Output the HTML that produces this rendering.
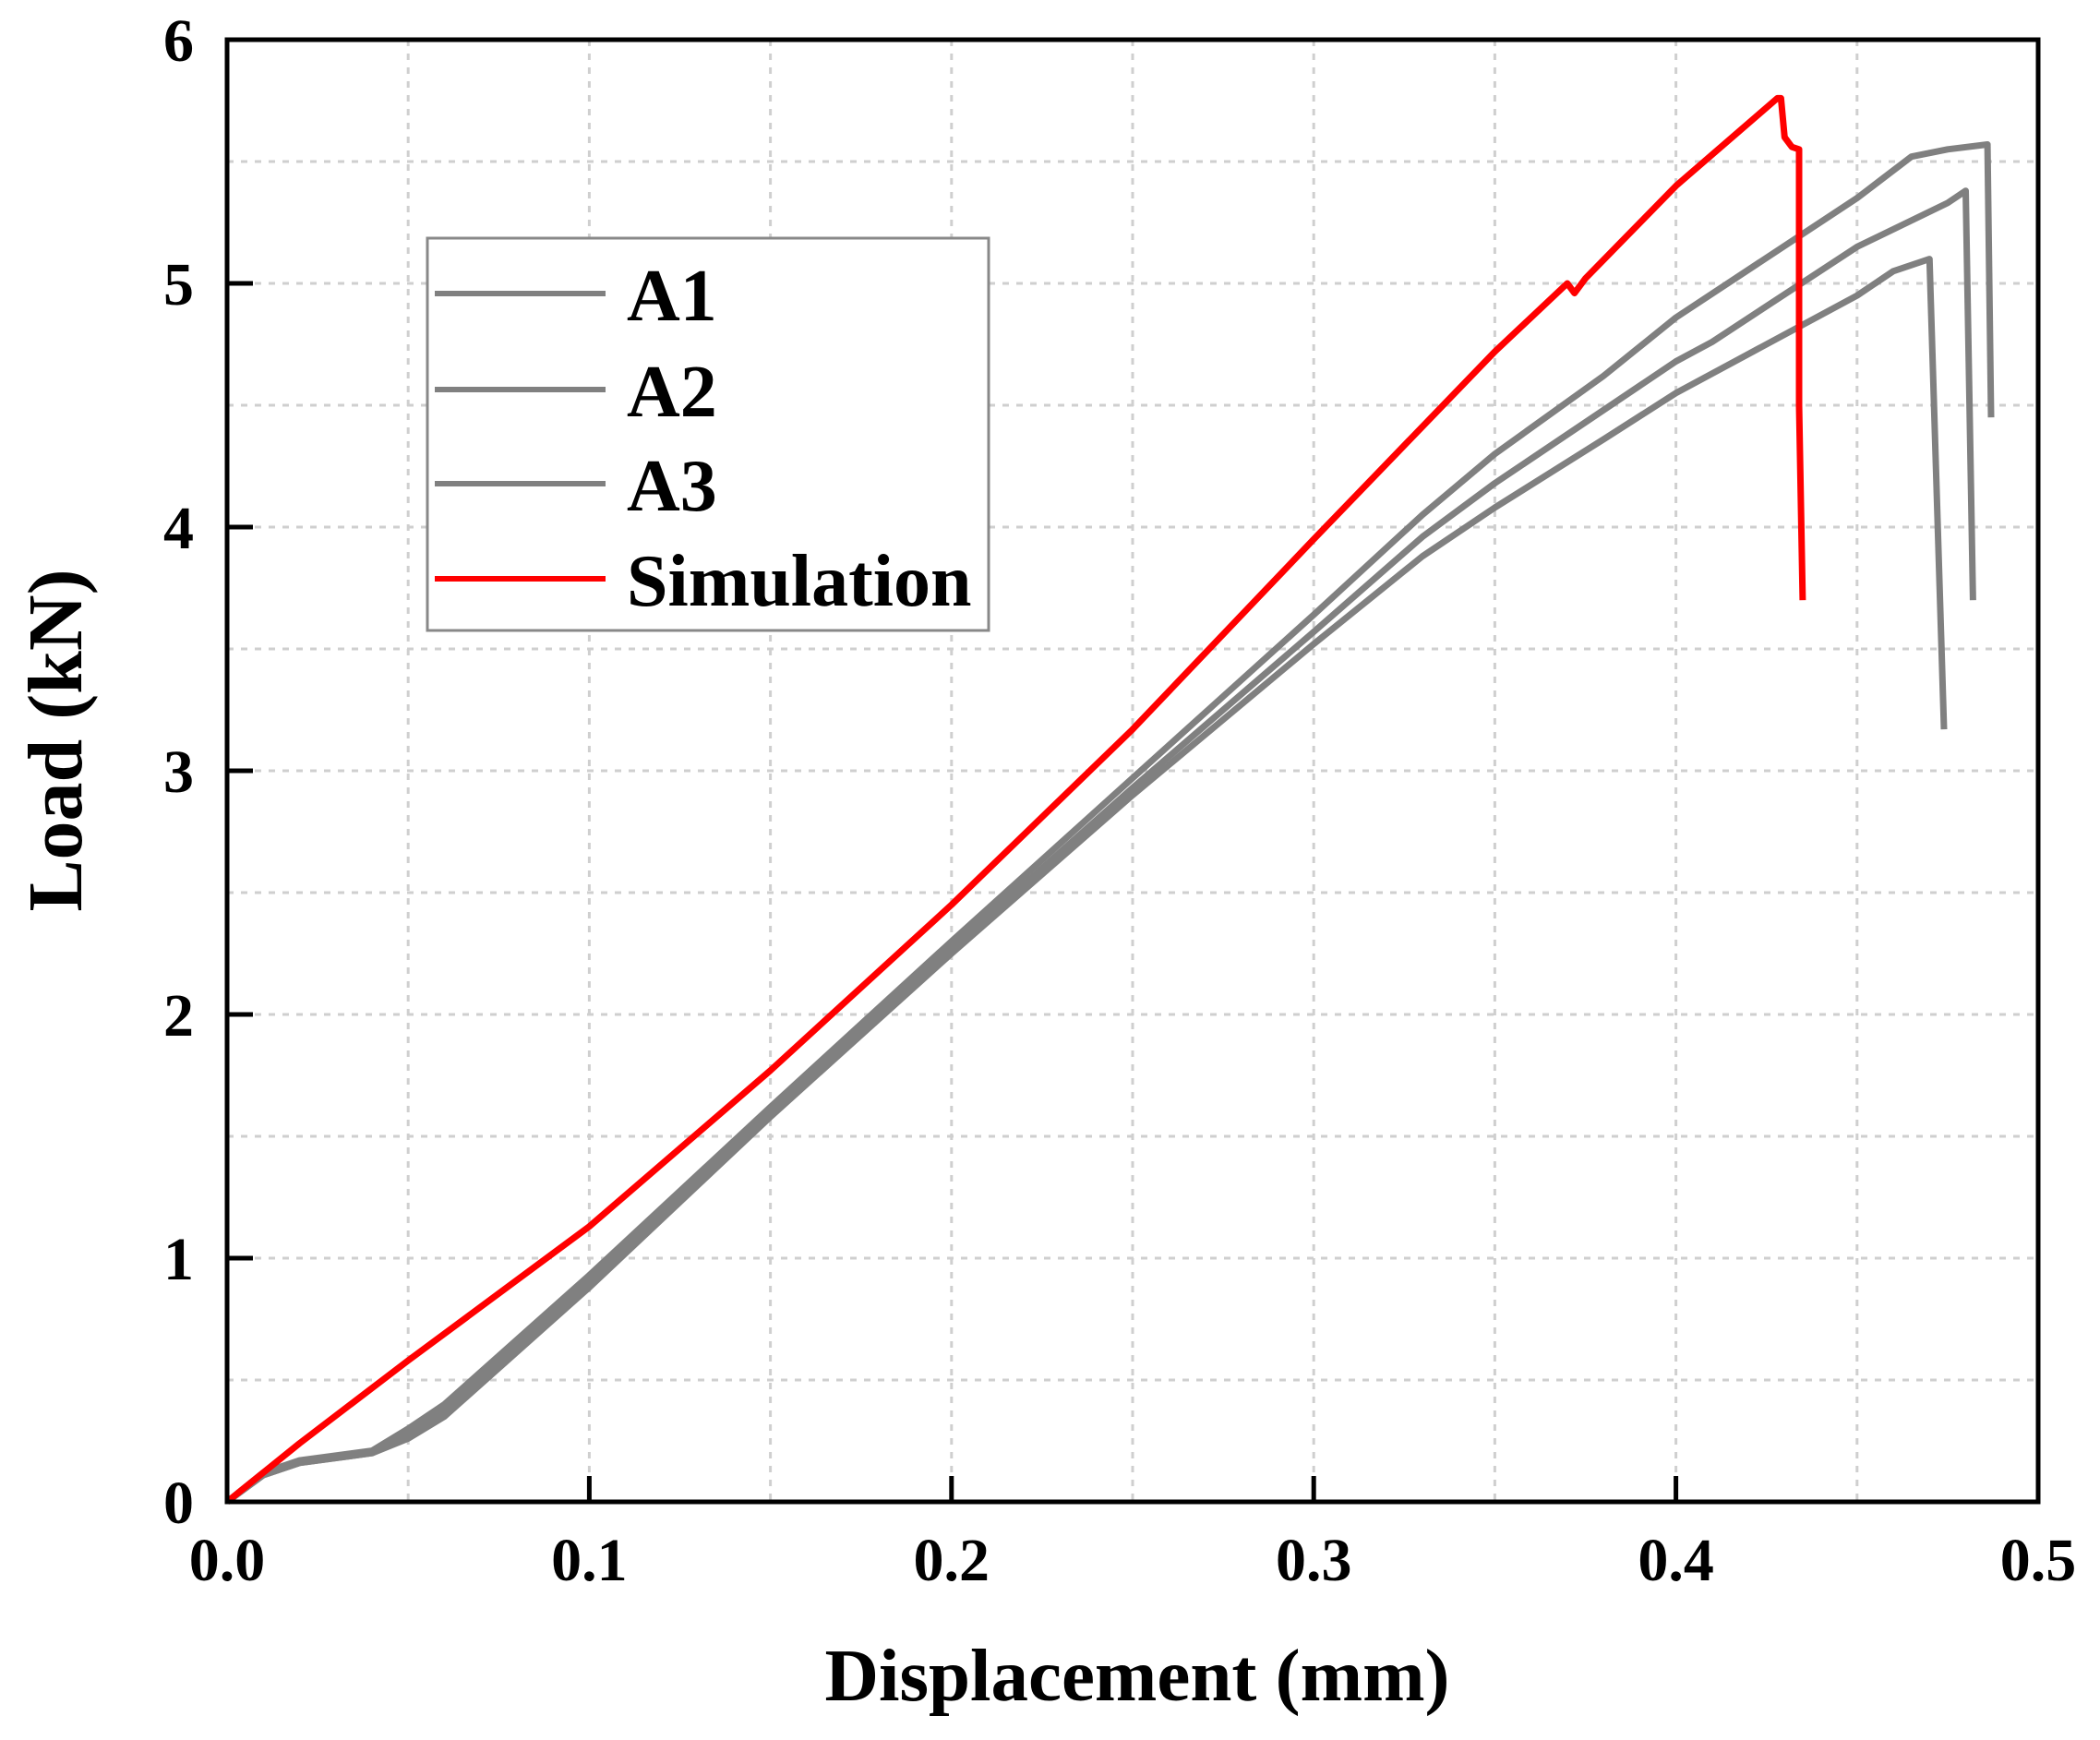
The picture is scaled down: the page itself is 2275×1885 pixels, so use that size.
<!DOCTYPE html>
<html><head><meta charset="utf-8"><style>
html,body{margin:0;padding:0;background:#fff}
svg{display:block}
text{font-family:"Liberation Serif",serif;font-weight:bold;fill:#000}
</style></head><body>
<svg id="chart" width="2275" height="1885" viewBox="0 0 2275 1885" xmlns="http://www.w3.org/2000/svg">
<g id="grid"></g>
<g id="series"></g>
<rect x="246" y="43" width="1962" height="1584" fill="none" stroke="#000" stroke-width="5"/>
<g id="ticks"></g>
<text x="1232" y="1842" font-size="81" text-anchor="middle">Displacement (mm)</text>
<text transform="translate(88,802) rotate(-90)" font-size="84" text-anchor="middle">Load (kN)</text>
<g>
<rect x="463" y="258" width="608" height="425" fill="#fff" stroke="#888" stroke-width="3"/>
<line x1="471" y1="318" x2="656" y2="318" stroke="#808080" stroke-width="6"/>
<text x="679" y="347" font-size="80">A1</text>
<line x1="471" y1="422" x2="656" y2="422" stroke="#808080" stroke-width="6"/>
<text x="679" y="451" font-size="80">A2</text>
<line x1="471" y1="524" x2="656" y2="524" stroke="#808080" stroke-width="6"/>
<text x="679" y="553" font-size="80">A3</text>
<line x1="471" y1="627" x2="656" y2="627" stroke="#ff0000" stroke-width="6"/>
<text x="679" y="656" font-size="80">Simulation</text>
</g>
</svg>
<script>
const xTicks = [0.0, 0.1, 0.2, 0.3, 0.4, 0.5];
const xTickLabels = ["0.0", "0.1", "0.2", "0.3", "0.4", "0.5"];
const yTicks = [0, 1, 2, 3, 4, 5, 6];
const yTickLabels = ["0", "1", "2", "3", "4", "5", "6"];
const simX = [0, 0.02, 0.05, 0.1, 0.15, 0.2, 0.25, 0.3, 0.35, 0.37, 0.372, 0.375, 0.4, 0.428, 0.429, 0.430, 0.432, 0.434, 0.434, 0.435];
const simY = [0, 0.24, 0.58, 1.13, 1.77, 2.45, 3.17, 3.95, 4.72, 5.0, 4.96, 5.02, 5.4, 5.76, 5.76, 5.6, 5.56, 5.55, 4.5, 3.7];
const a1X = [0, 0.01, 0.02, 0.04, 0.05, 0.06, 0.1, 0.15, 0.2, 0.25, 0.3, 0.33, 0.35, 0.38, 0.4, 0.45, 0.465, 0.475, 0.486, 0.487];
const a1Y = [0, 0.12, 0.17, 0.21, 0.3, 0.4, 0.93, 1.62, 2.3, 2.97, 3.64, 4.05, 4.3, 4.62, 4.86, 5.35, 5.52, 5.55, 5.57, 4.45];
const a2X = [0, 0.01, 0.02, 0.04, 0.05, 0.06, 0.1, 0.15, 0.2, 0.25, 0.3, 0.33, 0.35, 0.38, 0.4, 0.41, 0.45, 0.475, 0.48, 0.482];
const a2Y = [0, 0.11, 0.16, 0.2, 0.27, 0.37, 0.9, 1.6, 2.27, 2.93, 3.57, 3.96, 4.18, 4.48, 4.68, 4.76, 5.15, 5.33, 5.38, 3.7];
const a3X = [0, 0.01, 0.02, 0.04, 0.05, 0.06, 0.1, 0.15, 0.2, 0.25, 0.3, 0.33, 0.35, 0.38, 0.4, 0.45, 0.46, 0.47, 0.474];
const a3Y = [0, 0.11, 0.16, 0.2, 0.26, 0.35, 0.88, 1.58, 2.25, 2.9, 3.52, 3.88, 4.08, 4.36, 4.55, 4.95, 5.05, 5.1, 3.17];

const NS = "http://www.w3.org/2000/svg";
const X0 = 246, X1 = 2208, Y0 = 1627, Y1 = 43;
function sx(v){ return X0 + (v - 0) / 0.5 * (X1 - X0); }
function sy(v){ return Y0 - (v - 0) / 6 * (Y0 - Y1); }

const grid = document.getElementById('grid');
for (let i = 1; i < 10; i++) {
  const v = i * 0.05;
  const l = document.createElementNS(NS, 'line');
  
  
  l.setAttribute('x1', sx(v)); l.setAttribute('x2', sx(v));
  l.setAttribute('y1', Y1); l.setAttribute('y2', Y0);
  l.setAttribute('stroke', '#cfcfcf'); l.setAttribute('stroke-width', '3'); l.setAttribute('stroke-dasharray', '7 8');
  grid.appendChild(l);
}
for (let i = 1; i < 12; i++) {
  const v = i * 0.5;
  const l = document.createElementNS(NS, 'line');
  
  
  l.setAttribute('x1', X0); l.setAttribute('x2', X1);
  l.setAttribute('y1', sy(v)); l.setAttribute('y2', sy(v));
  l.setAttribute('stroke', '#cfcfcf'); l.setAttribute('stroke-width', '3'); l.setAttribute('stroke-dasharray', '7 8');
  grid.appendChild(l);
}

const ticks = document.getElementById('ticks');
xTicks.forEach((v, i) => {
  const t = document.createElementNS(NS, 'line');
  
  
  t.setAttribute('x1', sx(v)); t.setAttribute('x2', sx(v));
  t.setAttribute('y1', Y0); t.setAttribute('y2', Y0 - 28);
  t.setAttribute('stroke', '#000'); t.setAttribute('stroke-width', '5');
  ticks.appendChild(t);
  const tx = document.createElementNS(NS, 'text');
  
  
  tx.setAttribute('x', sx(v)); tx.setAttribute('y', 1712);
  tx.setAttribute('font-size', '66'); tx.setAttribute('text-anchor', 'middle');
  tx.textContent = xTickLabels[i];
  ticks.appendChild(tx);
});
yTicks.forEach((v, i) => {
  const t = document.createElementNS(NS, 'line');
  
  
  t.setAttribute('x1', X0); t.setAttribute('x2', X0 + 28);
  t.setAttribute('y1', sy(v)); t.setAttribute('y2', sy(v));
  t.setAttribute('stroke', '#000'); t.setAttribute('stroke-width', '5');
  ticks.appendChild(t);
  const tx = document.createElementNS(NS, 'text');
  
  
  tx.setAttribute('x', 210); tx.setAttribute('y', sy(v) + 23);
  tx.setAttribute('font-size', '66'); tx.setAttribute('text-anchor', 'end');
  tx.textContent = yTickLabels[i];
  ticks.appendChild(tx);
});

const series = document.getElementById('series');
function drawSeries(xs, ys, color, name) {
  const p = document.createElementNS(NS, 'polyline');
  
  
  p.setAttribute('points', xs.map((x, i) => sx(x).toFixed(1) + ',' + sy(ys[i]).toFixed(1)).join(' '));
  p.setAttribute('fill', 'none'); p.setAttribute('stroke', color);
  p.setAttribute('stroke-width', '7'); p.setAttribute('stroke-linejoin', 'round');
  series.appendChild(p);
}
drawSeries(a3X, a3Y, '#808080', 'a3-curve');
drawSeries(a2X, a2Y, '#808080', 'a2-curve');
drawSeries(a1X, a1Y, '#808080', 'a1-curve');
drawSeries(simX, simY, '#ff0000', 'simulation-curve');
</script>
</body></html>
